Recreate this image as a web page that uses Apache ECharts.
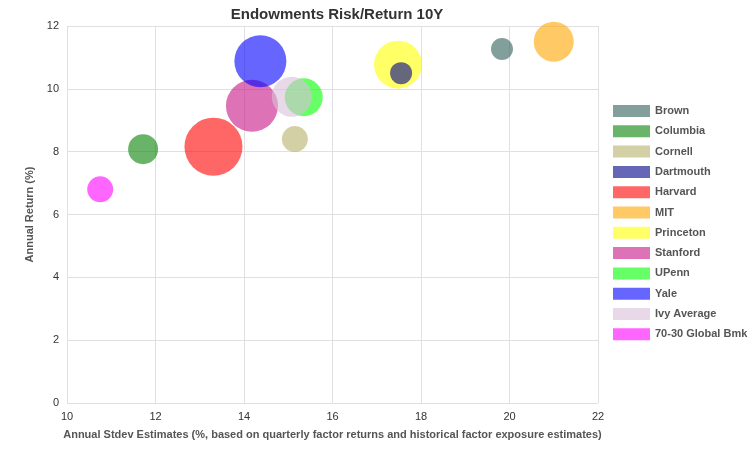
<!DOCTYPE html>
<html><head><meta charset="utf-8">
<script src="https://cdn.jsdelivr.net/npm/echarts@6/dist/echarts.min.js"></script>
<style>html,body{margin:0;background:#fff}#main{width:756px;height:449px}</style>
</head><body><div id="main"></div>
<script>
// 各校名称、颜色与数据 [风险, 回报, 气泡直径]
const names = ["Brown","Columbia","Cornell","Dartmouth","Harvard","MIT","Princeton","Stanford","UPenn","Yale","Ivy Average","70-30 Global Bmk"];
const colors = ["#2f5f5a","#058205","#b6b06a","#00008b","#ff0000","#ffa500","#ffff00","#c71585","#00ff00","#0000ff","#d8bfd8","#ff00ff"];
const risk = [19.83,11.72,15.15,17.55,13.31,21.0,17.48,14.18,15.35,14.37,15.08,10.75];
const ret = [11.27,8.08,8.4,10.5,8.16,11.5,10.77,9.46,9.73,10.88,9.75,6.8];
const size = [22,30,26,22,58,40,48,52,38,52,40,26];

const chart = echarts.init(document.getElementById("main"));
chart.setOption({
	animation: false,
	title: { text: "Endowments Risk/Return 10Y", left: 332, top: 2, textAlign: "center",
		textStyle: { fontSize: 15, fontWeight: "bold", color: "#333", fontFamily: "Liberation Sans" } },
	legend: {
		orient: "vertical", left: 608, top: 100, itemWidth: 37, itemHeight: 12, itemGap: 8.3,
		icon: "rect", textStyle: { fontSize: 11, fontWeight: "bold", color: "#555", fontFamily: "Liberation Sans" },
		data: names
	},
	grid: { left: 67, right: 158, top: 26, bottom: 46 },
	xAxis: {
		type: "value", min: 10, max: 22, interval: 2,
		name: "Annual Stdev Estimates (%, based on quarterly factor returns and historical factor exposure estimates)",
		nameLocation: "middle", nameGap: 26,
		nameTextStyle: { fontSize: 11, fontWeight: "bold", color: "#555", fontFamily: "Liberation Sans" },
		axisLine: { show: false }, axisTick: { show: false },
		axisLabel: { color: "#333", fontSize: 11 },
		splitLine: { lineStyle: { color: "#e0e0e0" } }
	},
	yAxis: {
		type: "value", min: 0, max: 12, interval: 2,
		name: "Annual Return (%)", nameLocation: "middle", nameGap: 32,
		nameTextStyle: { fontSize: 11, fontWeight: "bold", color: "#555", fontFamily: "Liberation Sans" },
		axisLine: { show: false }, axisTick: { show: false },
		axisLabel: { color: "#333", fontSize: 11 },
		splitLine: { lineStyle: { color: "#e0e0e0" } }
	},
	series: names.map((n, i) => ({
		name: n, type: "scatter", z: n === "Dartmouth" ? 3 : 2,
		data: [[risk[i], ret[i], size[i]]],
		symbolSize: d => d[2],
		itemStyle: { color: colors[i], opacity: 0.6 }
	}))
});
</script></body></html>
